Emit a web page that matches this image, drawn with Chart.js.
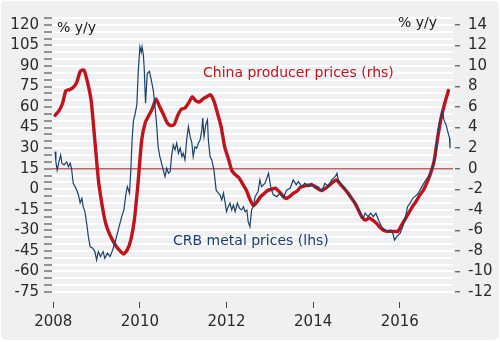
<!DOCTYPE html>
<html><head><meta charset="utf-8">
<script src="https://cdn.jsdelivr.net/npm/chart.js@4/dist/chart.umd.min.js"></script>
<style>html,body{margin:0;padding:0;background:#fff;}canvas{display:block;}</style>
</head><body>
<canvas id="c" width="500" height="342"></canvas>
<script>
// X axis tick years
const xTickYears = [2008, 2010, 2012, 2014, 2016];
const xRange = [2007.97, 2017.23];

// China producer prices, % y/y (rhs), monthly from Jan 2008
const ppiStartYear = 2008;
const ppiV = [
  5.2, 5.6, 6.3, 7.6, 7.7, 7.9, 8.4, 9.5, 9.6, 8.4, 6.6, 2.8,
  -1.1, -3.5, -5.3, -6.3, -7.0, -7.6, -8.0, -8.3, -7.9, -6.9, -4.9, -1.3,
  2.8, 4.5, 5.2, 5.9, 6.8, 6.0, 5.3, 4.5, 4.2, 4.3, 5.2, 5.8,
  5.9, 6.4, 7.0, 6.6, 6.5, 6.8, 7.0, 7.2, 6.6, 5.4, 4.1, 2.1,
  1.0, -0.2, -0.6, -0.9, -1.5, -2.1, -3.0, -3.6, -3.2, -2.7, -2.4, -2.1,
  -2.0, -1.9, -2.2, -2.6, -2.9, -2.7, -2.4, -2.2, -1.8, -1.7, -1.6, -1.6,
  -1.7, -2.0, -2.1, -1.9, -1.6, -1.3, -1.1, -1.5, -1.9, -2.3, -2.8, -3.3,
  -4.0, -4.7, -5.0, -4.8, -5.0, -5.3, -5.7, -6.0, -6.1, -6.1, -6.1, -6.1,
  -5.5, -4.9, -4.3, -3.7, -3.2, -2.6, -2.1, -1.4, -0.5, 0.7, 3.0, 5.0,
  6.4, 7.6
];

// CRB metal prices, % y/y (lhs): dates (decimal years) and values
const crbT = [
  2008.04,2008.06,2008.09,2008.13,2008.17,2008.20,2008.25,2008.31,2008.35,2008.39,
  2008.42,2008.46,2008.50,2008.54,2008.58,2008.62,2008.66,2008.69,2008.73,2008.77,
  2008.81,2008.85,2008.91,2008.96,2009.00,2009.04,2009.09,2009.15,2009.19,2009.25,
  2009.31,2009.37,2009.42,2009.46,2009.52,2009.58,2009.63,2009.68,2009.71,2009.76,
  2009.79,2009.82,2009.85,2009.89,2009.93,2009.96,2010.00,2010.03,2010.05,2010.08,
  2010.10,2010.13,2010.17,2010.22,2010.27,2010.31,2010.35,2010.39,2010.42,2010.46,
  2010.50,2010.54,2010.58,2010.62,2010.66,2010.70,2010.73,2010.77,2010.81,2010.85,
  2010.89,2010.93,2010.97,2011.00,2011.04,2011.08,2011.12,2011.16,2011.20,2011.23,
  2011.27,2011.31,2011.35,2011.39,2011.43,2011.45,2011.48,2011.52,2011.56,2011.58,
  2011.62,2011.66,2011.71,2011.76,2011.81,2011.85,2011.89,2011.93,2011.97,2012.00,
  2012.04,2012.08,2012.12,2012.16,2012.20,2012.25,2012.30,2012.35,2012.39,2012.43,
  2012.47,2012.50,2012.54,2012.58,2012.62,2012.66,2012.73,2012.77,2012.81,2012.89,
  2012.97,2013.02,2013.08,2013.16,2013.24,2013.31,2013.39,2013.47,2013.54,2013.61,
  2013.66,2013.74,2013.81,2013.89,2013.97,2014.04,2014.12,2014.20,2014.27,2014.35,
  2014.43,2014.51,2014.55,2014.58,2014.66,2014.74,2014.81,2014.89,2014.97,2015.01,
  2015.04,2015.12,2015.16,2015.20,2015.27,2015.33,2015.39,2015.45,2015.51,2015.58,
  2015.66,2015.74,2015.79,2015.84,2015.88,2015.93,2016.01,2016.07,2016.12,2016.18,
  2016.24,2016.30,2016.35,2016.43,2016.51,2016.58,2016.66,2016.74,2016.82,2016.87,
  2016.91,2016.95,2016.99,2017.02,2017.07,2017.11,2017.15,2017.16
];
const crbV = [
  27.5,20,14,20,25,19,17.8,20,16.5,19,
  15.3,4.4,2,-0.5,-4,-10,-6.6,-12.7,-16.3,-24.8,
  -34.6,-41.9,-43,-45.5,-51.6,-45.5,-49.2,-45.5,-50.4,-46.7,
  -49.2,-44.3,-39.4,-34.6,-27.3,-20,-15.1,-2.9,1.9,-2.9,
  14,36,50,55,62,85,104,100,104,98,
  88,62.8,84.7,86,78.6,72,60,45.7,31,23.8,
  19,14,9.2,15.3,11.7,12.9,23.8,32.4,28.7,33.6,
  26.3,30,23.8,26.3,21.4,36,45.7,38.4,33.6,23.8,
  31,30,33.6,36,43.3,51.9,38.4,47,50.6,36,
  23.8,21.4,14,-0.5,-2.9,-4.1,-7.8,-2.9,-10.2,-16.3,
  -12.7,-10.2,-15.1,-11.5,-16.3,-10.2,-13.9,-15.1,-12.7,-16.3,
  -15.1,-23.7,-27.3,-15,-12.7,-5.4,-1.7,6.8,1.9,4.4,
  11.7,1.9,-4.1,-5.4,-2.9,-6.6,-0.5,0.7,6.8,3.2,
  5.6,1.9,4.4,1.9,4.4,0.7,1.9,-1.7,4.4,1.9,
  6.8,9.2,11.7,6.8,3.2,0.7,-2.9,-6.6,-10.2,-11,
  -13.9,-18.8,-21.2,-17.5,-20,-17.5,-20,-17.5,-22.4,-27.3,
  -29.7,-30.9,-29.7,-32.1,-37,-34.6,-32.1,-27.3,-22.4,-12.7,
  -10.2,-6.6,-5.4,-2.9,1.9,5.6,9.2,14.1,22.6,38.4,
  48.2,53,56.7,50.6,47,42.1,37.3,30
];

// Axis ranges
const leftMin = -75, leftMax = 125, leftStep = 5, leftLabelStep = 15, leftLabelMax = 120;
const rightMin = -12, rightMax = 14 + 2/3, rightStep = 2;

const FONT = 'DejaVu Sans';

const bgPlugin = {
  id: 'bg',
  beforeDraw(chart) {
    const ctx = chart.ctx;
    ctx.save();
    ctx.fillStyle = '#eff0f2';
    ctx.beginPath();
    ctx.roundRect(1, 1, chart.width - 2, chart.height - 3, 5);
    ctx.fill();
    ctx.restore();
  }
};
const textPlugin = {
  id: 'texts',
  afterDraw(chart) {
    const ctx = chart.ctx;
    ctx.save();
    ctx.font = '14px "' + FONT + '"';
    ctx.textBaseline = 'alphabetic';
    ctx.textAlign = 'left';
    ctx.fillStyle = '#1a1a1a';
    ctx.fillText('% y/y', 57, 32);
    ctx.fillText('% y/y', 398, 27);
    ctx.fillStyle = '#c0141c';
    ctx.fillText('China producer prices (rhs)', 203, 77);
    ctx.fillStyle = '#1d3f6b';
    ctx.fillText('CRB metal prices (lhs)', 173, 245);
    ctx.restore();
  }
};

new Chart(document.getElementById('c'), {
  type: 'line',
  data: {
    datasets: [
      {
        label: 'CRB metal prices (lhs)',
        data: crbT.map((t, i) => ({ x: t, y: crbV[i] })),
        yAxisID: 'yL',
        borderColor: '#1b416b',
        borderWidth: 1.2,
        pointRadius: 0,
        tension: 0
      },
      {
        label: 'China producer prices (rhs)',
        data: ppiV.map((v, i) => ({ x: ppiStartYear + (i + 0.5) / 12, y: v })),
        yAxisID: 'yR',
        borderColor: '#c0141c',
        borderWidth: 3.4,
        pointRadius: 0,
        tension: 0.2,
        borderJoinStyle: 'round',
        borderCapStyle: 'round'
      }
    ]
  },
  options: {
    responsive: false,
    animation: false,
    devicePixelRatio: 1,
    layout: { padding: { top: 18, left: 0, right: 0, bottom: 0 } },
    plugins: { legend: { display: false }, tooltip: { enabled: false } },
    scales: {
      x: {
        type: 'linear',
        position: 'bottom',
        min: xRange[0],
        max: xRange[1],
        afterFit(s) { s.height = 50; },
        afterBuildTicks(s) { s.ticks = xTickYears.map(v => ({ value: v })); },
        grid: { drawOnChartArea: false, drawTicks: true, tickLength: 16, tickColor: '#444', tickWidth: 1, tickBorderDash: [6, 10], tickBorderDashOffset: 6 },
        border: { display: false },
        ticks: { autoSkip: false, maxRotation: 0, padding: 5, color: '#2a2a2a', font: { family: FONT, size: 15 }, callback: v => String(v) }
      },
      yL: {
        position: 'left',
        min: leftMin,
        max: leftMax,
        afterFit(s) { s.width = 52; },
        grid: { color: c => (c.tick && c.tick.value === 15) ? 'rgba(0,0,0,0)' : '#ffffff', lineWidth: 2, drawTicks: true, tickLength: 8, tickColor: '#555', tickWidth: 1.2 },
        border: { display: false },
        ticks: {
          stepSize: leftStep, autoSkip: false, includeBounds: false, padding: 5, color: '#2a2a2a',
          font: { family: FONT, size: 15 },
          callback: v => (v % leftLabelStep === 0 && v <= leftLabelMax) ? String(v) : ''
        }
      },
      yR: {
        position: 'right',
        min: rightMin,
        max: rightMax,
        afterFit(s) { s.width = 47; },
        grid: { color: c => (c.tick && c.tick.value === 0) ? '#c26464' : 'rgba(0,0,0,0)', lineWidth: 1.5, drawTicks: true, tickLength: 7, tickColor: '#555', tickWidth: 1.2, tickBorderDash: [5, 2], tickBorderDashOffset: 5 },
        border: { display: false },
        ticks: { stepSize: rightStep, autoSkip: false, includeBounds: false, padding: 8, color: '#2a2a2a', font: { family: FONT, size: 15 }, callback: v => String(v) }
      }
    }
  },
  plugins: [bgPlugin, textPlugin]
});
</script>
</body></html>
